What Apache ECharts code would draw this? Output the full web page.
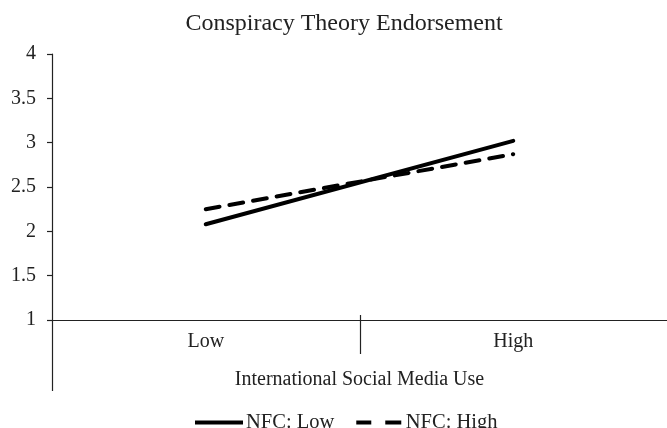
<!DOCTYPE html>
<html><head><meta charset="utf-8">
<script src="https://cdn.jsdelivr.net/npm/echarts@6/dist/echarts.min.js"></script>
<style>html,body{margin:0;padding:0;background:#fff}#c{width:667px;height:428px}</style>
</head><body><div id="c"></div>
<script>
const categories = ['Low', 'High'];
const nfcLow = [2.08, 3.02];
const nfcHigh = [2.25, 2.87];
const yTicks = [1, 1.5, 2, 2.5, 3, 3.5, 4];
const F = '"Liberation Serif", "Times New Roman", serif';
const chart = echarts.init(document.getElementById('c'));
chart.setOption({
  animation: false,
  title: { text: 'Conspiracy Theory Endorsement', left: 339, top: 7, textAlign: 'center',
    textStyle: { fontFamily: F, fontWeight: 'normal', fontSize: 24, color: '#222' } },
  grid: { left: 52, right: 0, top: 54, bottom: 108, outerBoundsMode: 'none' },
  legend: { left: 190, top: 407, itemWidth: 48, itemHeight: 4, itemGap: 22,
    textStyle: { fontFamily: F, fontSize: 20.5, color: '#222', padding: [0,0,0,-2] },
    data: [
      { name: 'NFC: Low', icon: 'path://M0,0H48V4H0Z' },
      { name: 'NFC: High', icon: 'path://M0,0H15V4H0Z M29,0H45V4H29Z' }
    ] },
  xAxis: [{
    type: 'category', data: categories, boundaryGap: true,
    axisLine: { show: true, lineStyle: { color: '#222', width: 1.2 } },
    axisTick: { show: false },
    axisLabel: { fontFamily: F, fontSize: 20, color: '#222', margin: 12 },
    name: 'International Social Media Use', nameLocation: 'middle', nameGap: 50,
    nameTextStyle: { fontFamily: F, fontSize: 20, color: '#222' }
  }],
  yAxis: {
    type: 'value', min: 1, max: 4, interval: 0.5,
    axisLine: { show: true, lineStyle: { color: '#222', width: 1.2 } },
    axisTick: { show: true, length: 5, lineStyle: { color: '#222', width: 1.2 } },
    splitLine: { show: false },
    axisLabel: { fontFamily: F, fontSize: 20, color: '#222', margin: 16,
      formatter: v => yTicks.includes(v) ? String(v) : '' }
  },
  series: [
    { name: 'NFC: Low', type: 'line', data: nfcLow, symbol: 'none',
      lineStyle: { color: '#000', width: 4, type: 'solid', cap: 'round' }, itemStyle: { color: '#000' } },
    { name: 'NFC: High', type: 'line', data: nfcHigh, symbol: 'none',
      lineStyle: { color: '#000', width: 4, type: [14, 10], cap: 'round' }, itemStyle: { color: '#000' } }
  ]
});
// decorations derived from the axes: y-axis extension below the x-axis and the category-boundary tick crossing the x-axis
const p0 = chart.convertToPixel({ xAxisIndex: 0, yAxisIndex: 0 }, [categories[0], 1]);
const p1 = chart.convertToPixel({ xAxisIndex: 0, yAxisIndex: 0 }, [categories[1], 1]);
const mid = Math.round((p0[0] + p1[0]) / 2) + 0.5;
const axisX = 52.5;
chart.setOption({
  graphic: [
    { type: 'line', shape: { x1: axisX, y1: p0[1], x2: axisX, y2: p0[1] + 71 }, style: { stroke: '#222', lineWidth: 1.2 } },
    { type: 'line', shape: { x1: mid, y1: p0[1] - 5, x2: mid, y2: p0[1] + 34 }, style: { stroke: '#222', lineWidth: 1.2 } }
  ]
});
</script></body></html>
